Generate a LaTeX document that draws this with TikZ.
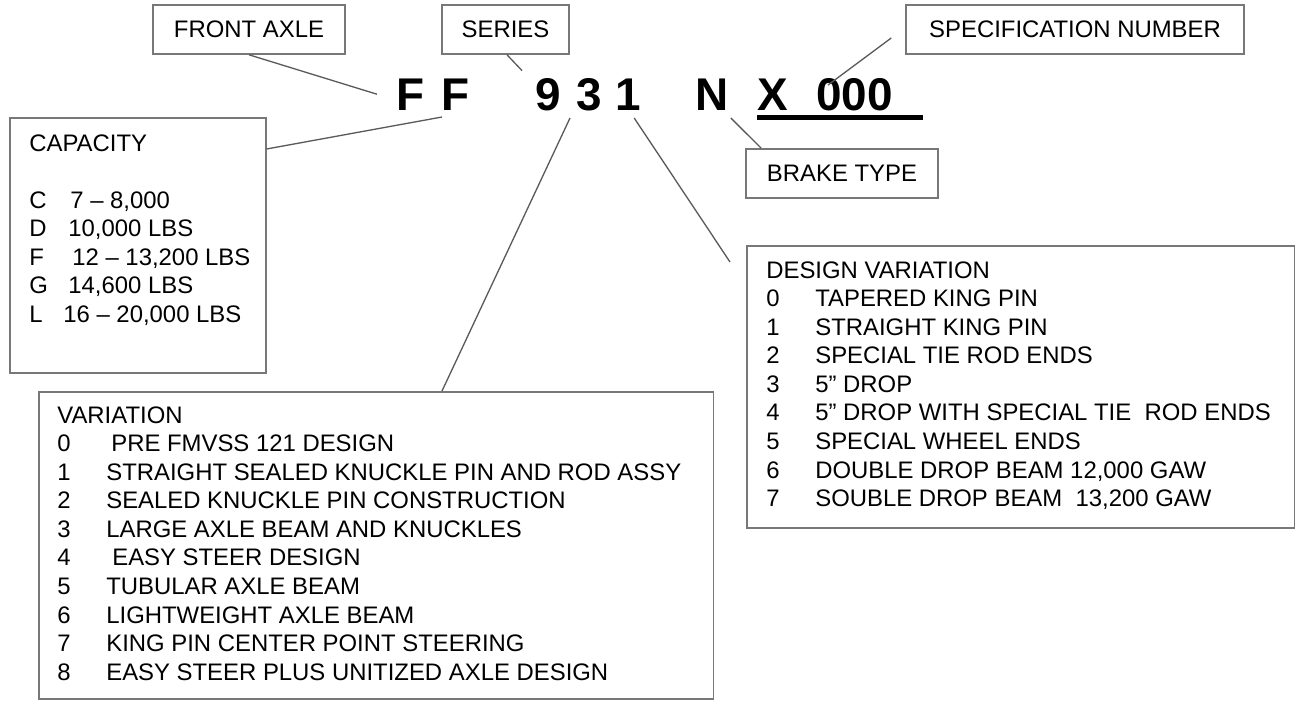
\documentclass[tikz,border=0pt]{standalone}
\usepackage{fontspec}
\setmainfont{Liberation Sans}
\usepackage{tikz}
\usetikzlibrary{positioning,calc}
\definecolor{leadgray}{RGB}{90,90,90}
\definecolor{framegray}{RGB}{120,120,120}
\newcommand{\listrow}[2]{\makebox[0.98cm][l]{#1}#2}
\newcommand{\caprow}[3][0.8cm]{\makebox[#1][l]{#2}#3}

\begin{document}
\begin{tikzpicture}[
    x=0.02cm, y=-0.02cm,
    tag/.style={
        rectangle, draw=framegray, line width=0.9pt,
        minimum height=0.98cm, inner sep=0pt,
        font=\fontsize{13.6}{16}\selectfont
    },
    panel/.style={rectangle, draw=framegray, line width=0.9pt, inner sep=0pt, anchor=north west},
    listtext/.style={inner sep=0pt, align=left, font=\fontsize{13.6}{16.27}\selectfont},
    code/.style={inner sep=0pt, anchor=base west, font=\fontsize{26.1}{30}\selectfont\bfseries},
    lead/.style={draw=leadgray, line width=0.75pt}
]
    \useasboundingbox (0,0) rectangle (1295,700);

    % label boxes
    \node[tag, minimum width=3.84cm] (frontaxle) at (249,29.5) {FRONT AXLE};
    \node[tag, minimum width=2.54cm] (series) at (505.5,29.5) {SERIES};
    \node[tag, minimum width=6.76cm] (specno) at (1075,29.5) {SPECIFICATION NUMBER};
    \node[tag, minimum width=3.84cm] (braketype) at (842,173.5) {BRAKE TYPE};

    % the code itself
    \node[code] (f1) at (396,110) {F};
    \node[code] (f2) at (441,110) {F};
    \node[code] (d9) at (535,110) {9};
    \node[code] (d3) at (576,110) {3};
    \node[code] (d1) at (615,110) {1};
    \node[code] (nchar) at (695,110) {N};
    \node[code] (xchar) at (757,110) {X};
    \node[code] (zeros) at (816,110) {000};
    \draw[line width=2.8pt] ($(xchar.base west)+(0,7.5)$) -- ($(zeros.base west)+(107,7.5)$);

    % lists
    \node[panel, minimum width=5.12cm, minimum height=5.1cm] (capacity) at (9,117) {};
    \node[listtext, below right=0.34cm and 0.4cm of capacity.north west] (captext) {CAPACITY\\[16.27pt]
        \caprow[0.82cm]{C}{7 – 8,000}\\
        \caprow[0.78cm]{D}{10,000 LBS}\\
        \caprow[0.86cm]{F}{12 – 13,200 LBS}\\
        \caprow[0.78cm]{G}{14,600 LBS}\\
        \caprow[0.68cm]{L}{16 – 20,000 LBS}};

    \node[panel, minimum width=13.5cm, minimum height=6.14cm] (variation) at (38,391) {};
    \node[listtext, below right=0.3cm and 0.38cm of variation.north west] (vartext) {VARIATION\\
        \listrow{0}{\hspace{0.1cm}PRE FMVSS 121 DESIGN}\\
        \listrow{1}{STRAIGHT SEALED KNUCKLE PIN AND ROD ASSY}\\
        \listrow{2}{SEALED KNUCKLE PIN CONSTRUCTION}\\
        \listrow{3}{LARGE AXLE BEAM AND KNUCKLES}\\
        \listrow{4}{\hspace{0.12cm}EASY STEER DESIGN}\\
        \listrow{5}{TUBULAR AXLE BEAM}\\
        \listrow{6}{LIGHTWEIGHT AXLE BEAM}\\
        \listrow{7}{KING PIN CENTER POINT STEERING}\\
        \listrow{8}{EASY STEER PLUS UNITIZED AXLE DESIGN}};

    \node[panel, minimum width=10.96cm, minimum height=5.64cm] (design) at (746,245) {};
    \node[listtext, below right=0.32cm and 0.4cm of design.north west] (destext) {DESIGN VARIATION\\
        \listrow{0}{TAPERED KING PIN}\\
        \listrow{1}{STRAIGHT KING PIN}\\
        \listrow{2}{SPECIAL TIE ROD ENDS}\\
        \listrow{3}{5” DROP}\\
        \listrow{4}{5” DROP WITH SPECIAL TIE\ \ ROD ENDS}\\
        \listrow{5}{SPECIAL WHEEL ENDS}\\
        \listrow{6}{DOUBLE DROP BEAM 12,000 GAW}\\
        \listrow{7}{SOUBLE DROP BEAM\ \ 13,200 GAW}};

    % leader lines
    \draw[lead] (frontaxle.south) -- ($(f1.west)+(-19,0)$);
    \draw[lead] ($(series.south)+(1.5,0)$) -- ($(d9.north west)+(-13,-7)$);
    \draw[lead] ($(f2.base west)+(1,7)$) -- ($(capacity.north east)+(0,32)$);
    \draw[lead] ($(d3.base west)+(-6,8)$) -- ($(variation.north west)+(404,0)$);
    \draw[lead] ($(d1.base east)+(-7,8)$) -- ($(design.north west)+(-16,17)$);
    \draw[lead] ($(nchar.base east)+(2,8)$) -- ($(braketype.north west)+(16,0)$);
    \draw[lead] ($(specno.west)+(-14,8.5)$) -- ($(zeros.base west)+(12,-25)$);
\end{tikzpicture}
\end{document}
